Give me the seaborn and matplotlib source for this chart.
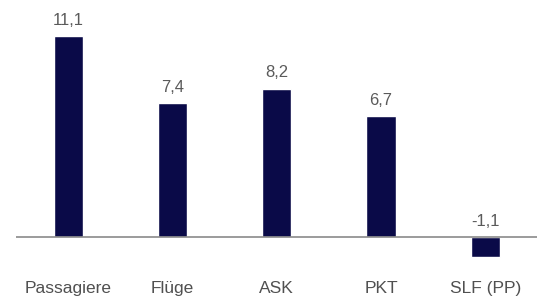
import pandas as pd
import matplotlib
matplotlib.use("Agg")
import matplotlib.pyplot as plt
import seaborn as sns

# chart data
categories = ["Passagiere", "Flüge", "ASK", "PKT", "SLF (PP)"]
values = [11.1, 7.4, 8.2, 6.7, -1.1]

sns.set_style("white")
plt.rcParams["font.family"] = ["Liberation Sans", "DejaVu Sans"]

df = pd.DataFrame({"cat": categories, "val": values})

fig = plt.figure(figsize=(5.37, 2.99), dpi=100)
ax = fig.add_axes([16 / 537, 0.1348, 521.5 / 537, 0.799])

sns.barplot(data=df, x="cat", y="val", color="#0a0a48", saturation=1,
            width=0.28, ax=ax, errorbar=None)

# zero line
ax.axhline(0, color="#8a8a8a", linewidth=1.2, zorder=3)

# value labels, German decimal comma
for i, v in enumerate(values):
    ax.annotate(f"{v:.1f}".replace(".", ","), xy=(i, max(v, 0)),
                xytext=(0, 8), textcoords="offset points",
                ha="center", va="baseline", fontsize=12, color="#5a5a5a")

ax.set_xlim(-0.5, 4.5)
ax.set_ylim(-1.2, 12.0)
ax.set_xlabel("")
ax.set_ylabel("")
ax.set_yticks([])
ax.tick_params(axis="x", length=0, pad=16, labelsize=12.5, labelcolor="#505050")
sns.despine(ax=ax, left=True, bottom=True)

fig.savefig("out.png", dpi=100)
